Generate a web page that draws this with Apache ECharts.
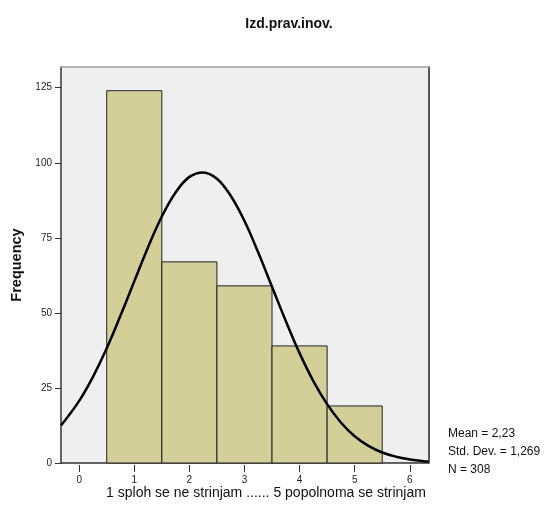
<!DOCTYPE html>
<html>
<head>
<meta charset="utf-8">
<script src="https://cdn.jsdelivr.net/npm/echarts@6/dist/echarts.min.js"></script>
<style>
html,body{margin:0;padding:0;background:#fff;}
#chart{width:546px;height:523px;}
</style>
</head>
<body>
<div id="chart"></div>
<script>
// Histogram categories (bin centres) and frequencies
const binCenters = [1, 2, 3, 4, 5];
const frequencies = [124, 67, 59, 39, 19];
// Normal curve points
const curveX = [-0.33, 0, 0.25, 0.5, 0.75, 1.0, 1.25, 1.5, 1.75, 2.0, 2.25, 2.5, 2.75, 3.0, 3.25, 3.5, 3.75, 4.0, 4.25, 4.5, 4.75, 5.0, 5.25, 5.5, 5.75, 6.0, 6.25, 6.34];
const curveY = [12.5, 20.7, 28.7, 38.2, 49.1, 60.5, 71.9, 82.1, 90.1, 95.3, 96.8, 94.7, 89.0, 80.6, 70.1, 58.7, 47.3, 36.6, 27.3, 19.6, 13.5, 8.9, 5.7, 3.5, 2.1, 1.2, 0.6, 0.5];
// Tick labels
const xTicks = [0, 1, 2, 3, 4, 5, 6];
const yTicks = [0, 25, 50, 75, 100, 125];
const titleText = 'Izd.prav.inov.';
const xAxisTitle = '1 sploh se ne strinjam ...... 5 popolnoma se strinjam';
const yAxisTitle = 'Frequency';
const statLines = ['Mean = 2,23', 'Std. Dev. = 1,269', 'N = 308'];

const FONT = '"Liberation Sans", Arial, sans-serif';
const X_MIN = -0.33, X_MAX = 6.34, Y_MIN = 0, Y_MAX = 131.9;

const chart = echarts.init(document.getElementById('chart'), null, {renderer: 'canvas'});

const barData = binCenters.map((c, i) => [c, frequencies[i]]);
const curveData = curveX.map((x, i) => [x, curveY[i]]);

const option = {
  backgroundColor: '#ffffff',
  animation: false,
  textStyle: {fontFamily: FONT},
  grid: {left: 61, top: 67, right: 117.5, bottom: 60, show: true, backgroundColor: '#efefef', borderWidth: 0},
  xAxis: [
    {
      type: 'value', min: X_MIN, max: X_MAX, position: 'bottom',
      axisLine: {show: true, onZero: false, lineStyle: {color: '#333', width: 1.5}},
      axisTick: {show: false}, axisLabel: {show: false}, splitLine: {show: false}
    },
    {
      type: 'value', min: X_MIN, max: X_MAX, position: 'bottom', offset: 2,
      axisLine: {show: false, onZero: false},
      axisTick: {show: true, length: 7, customValues: xTicks, lineStyle: {color: '#333', width: 1}},
      axisLabel: {show: true, customValues: xTicks, color: '#222', fontSize: 10, fontFamily: FONT, margin: 10},
      splitLine: {show: false}
    },
    {
      type: 'value', min: X_MIN, max: X_MAX, position: 'top',
      axisLine: {show: true, onZero: false, lineStyle: {color: '#a0a0a0', width: 1.5}},
      axisTick: {show: false}, axisLabel: {show: false}, splitLine: {show: false}
    }
  ],
  yAxis: [
    {
      type: 'value', min: Y_MIN, max: Y_MAX, position: 'left',
      axisLine: {show: true, onZero: false, lineStyle: {color: '#333', width: 1.5}},
      axisTick: {show: true, length: 6, customValues: yTicks, lineStyle: {color: '#333', width: 1}},
      axisLabel: {show: true, customValues: yTicks, color: '#222', fontSize: 10, fontFamily: FONT, margin: 9},
      splitLine: {show: false},
      name: yAxisTitle, nameLocation: 'middle', nameGap: 36, nameRotate: 90,
      nameTextStyle: {fontSize: 14.5, fontWeight: 'bold', color: '#111', fontFamily: FONT}
    },
    {
      type: 'value', min: Y_MIN, max: Y_MAX, position: 'right',
      axisLine: {show: true, onZero: false, lineStyle: {color: '#222', width: 1.5}},
      axisTick: {show: false}, axisLabel: {show: false}, splitLine: {show: false}
    }
  ],
  title: {
    text: titleText, left: 284, top: 12, textAlign: 'center',
    textStyle: {fontSize: 14, fontWeight: 'bold', color: '#111', fontFamily: FONT}
  },
  graphic: [
    {type: 'text', x: 266, y: 486, style: {text: xAxisTitle, fill: '#111', font: '14px ' + FONT, textAlign: 'center'}},
    {type: 'text', x: 448, y: 425, style: {text: statLines.join('\n'), fill: '#111', font: '12px ' + FONT, lineHeight: 18}}
  ],
  series: [
    {
      type: 'custom', xAxisIndex: 0, yAxisIndex: 0, z: 2,
      data: barData,
      renderItem: function (params, api) {
        const x = api.value(0), v = api.value(1);
        const p1 = api.coord([x - 0.5, v]);
        const p2 = api.coord([x + 0.5, 0]);
        return {
          type: 'rect',
          shape: {x: p1[0], y: p1[1], width: p2[0] - p1[0], height: p2[1] - p1[1]},
          style: {fill: '#d3cf99', stroke: '#222', lineWidth: 1}
        };
      }
    },
    {
      type: 'line', xAxisIndex: 0, yAxisIndex: 0, z: 3,
      data: curveData, smooth: 0.4, showSymbol: false, symbol: 'none',
      lineStyle: {color: '#000', width: 2.5}
    }
  ]
};
chart.setOption(option);
</script>
</body>
</html>
